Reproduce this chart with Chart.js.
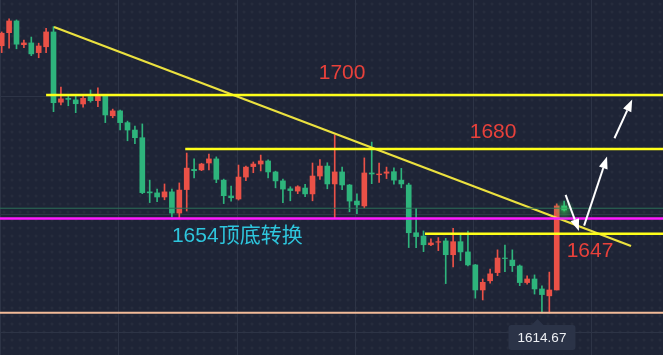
<!DOCTYPE html>
<html>
<head>
<meta charset="utf-8">
<script src="https://cdn.jsdelivr.net/npm/chart.js@4.4.1/dist/chart.umd.min.js"></script>
<style>
  html, body { margin: 0; padding: 0; }
  body {
    width: 663px; height: 355px; overflow: hidden;
    background-color: #1e2436;
    background-image: radial-gradient(circle, rgba(255,255,255,0.035) 1.3px, transparent 1.7px);
    background-size: 8px 8px;
  }
  #wrap { position: relative; width: 663px; height: 355px; }
</style>
</head>
<body>
<div id="wrap"><canvas id="chart" width="663" height="355"></canvas></div>
<script>
// ── Candles (index 0..76) ─────────────────────────────────────────────
const opens = [
  1719.3, 1724.4, 1729.0, 1719.7, 1720.4, 1716.6, 1718.9, 1724.7, 1697.2, 1698.7,
  1698.1, 1696.5, 1699.4, 1697.8, 1700.0, 1691.9, 1693.8, 1689.2, 1686.3, 1683.3,
  1662.1, 1661.7, 1660.1, 1662.1, 1653.8, 1663.0, 1670.9, 1670.7, 1673.4, 1675.0,
  1666.7, 1660.5, 1659.3, 1667.9, 1672.0, 1673.0, 1674.2, 1669.9, 1666.4, 1663.3,
  1662.4, 1663.6, 1661.3, 1668.3, 1672.2, 1665.2, 1669.9, 1664.8, 1658.5, 1656.6,
  1669.5, 1668.8, 1669.4, 1670.0, 1666.7, 1664.8, 1646.1, 1644.8, 1641.4, 1642.4,
  1642.9, 1637.5, 1642.6, 1638.6, 1633.5, 1623.7, 1627.3, 1630.5, 1636.2, 1635.4,
  1633.1, 1626.6, 1628.0, 1624.1, 1621.4, 1623.7, 1656.6
];
const highs = [
  1724.7, 1729.8, 1729.4, 1721.5, 1722.7, 1720.3, 1726.1, 1726.8, 1703.1, 1700.0,
  1699.6, 1700.3, 1702.0, 1702.8, 1700.2, 1694.5, 1694.1, 1689.8, 1687.9, 1688.7,
  1666.7, 1663.2, 1665.2, 1663.2, 1665.6, 1677.3, 1675.0, 1673.3, 1676.9, 1675.8,
  1667.1, 1664.4, 1672.6, 1672.2, 1673.8, 1676.5, 1674.6, 1670.2, 1667.1, 1664.1,
  1664.5, 1665.1, 1673.4, 1674.7, 1673.5, 1684.4, 1671.8, 1665.0, 1661.3, 1675.4,
  1681.6, 1673.4, 1671.8, 1671.5, 1671.3, 1665.5, 1655.7, 1646.8, 1643.7, 1644.2,
  1643.9, 1647.8, 1645.2, 1646.8, 1633.7, 1628.0, 1631.9, 1639.4, 1641.3, 1639.4,
  1633.5, 1629.2, 1629.6, 1625.3, 1630.7, 1657.4, 1658.5
];
const lows = [
  1716.6, 1718.3, 1718.1, 1718.5, 1715.4, 1714.6, 1716.6, 1693.5, 1696.1, 1695.8,
  1693.1, 1695.3, 1697.2, 1695.4, 1689.2, 1691.1, 1686.3, 1682.1, 1681.0, 1661.4,
  1657.9, 1658.3, 1659.0, 1652.3, 1652.0, 1654.6, 1667.6, 1670.4, 1670.7, 1665.7,
  1657.5, 1658.5, 1658.9, 1666.5, 1669.6, 1670.3, 1667.6, 1663.7, 1657.9, 1658.6,
  1661.4, 1660.2, 1658.6, 1667.0, 1663.3, 1652.0, 1663.0, 1654.3, 1653.6, 1655.8,
  1665.3, 1665.8, 1667.3, 1665.1, 1663.7, 1640.3, 1640.3, 1638.7, 1641.0, 1639.1,
  1626.2, 1632.7, 1635.2, 1633.1, 1620.5, 1619.8, 1626.4, 1629.3, 1630.9, 1630.9,
  1625.4, 1626.0, 1622.1, 1614.7, 1614.7, 1623.7, 1654.6
];
const closes = [
  1724.2, 1729.0, 1719.9, 1720.4, 1716.1, 1719.2, 1724.7, 1697.0, 1698.5, 1698.3,
  1696.6, 1698.7, 1697.8, 1700.0, 1692.2, 1693.8, 1689.2, 1686.3, 1683.3, 1661.8,
  1661.7, 1660.1, 1662.1, 1653.8, 1662.8, 1671.4, 1670.4, 1673.0, 1675.0, 1667.0,
  1660.6, 1659.8, 1667.9, 1671.8, 1673.0, 1674.2, 1669.9, 1666.4, 1663.2, 1662.6,
  1664.1, 1661.3, 1668.3, 1672.2, 1665.2, 1669.9, 1664.8, 1658.5, 1657.0, 1669.5,
  1669.1, 1669.1, 1669.9, 1666.7, 1665.2, 1646.1, 1644.6, 1641.4, 1642.1, 1642.6,
  1637.5, 1642.6, 1638.6, 1633.5, 1623.7, 1626.7, 1630.0, 1636.2, 1636.0, 1633.2,
  1626.6, 1628.0, 1624.1, 1621.9, 1623.7, 1656.6, 1655.0
];

// ── Visible window ────────────────────────────────────────────────────
const X_MIN = -0.23, X_MAX = 89.36;
const Y_MIN = 1598.25, Y_MAX = 1737.2;
const gridX = [-0.1, 15.75, 31.8, 47.8, 63.7, 79.75];
const gridY = [1699.6, 1653.3, 1606.9];

// ── Drawn levels ──────────────────────────────────────────────────────
const levelValues = [1700.0, 1678.9, 1645.7, 1651.7, 1614.8, 1655.7];
const levelStarts = [6.0, 24.8, 57.2, X_MIN, X_MIN, X_MIN];
const levelColors = ['#ffff1a', '#ffff1a', '#ffff1a', '#ff1aff', '#f3bb98', '#2c6f58'];
const levelWidths = [2.5, 2.5, 2.5, 2.5, 2, 1];

const trendX = [7.07, 85.04];
const trendY = [1726.6, 1640.9];

const arrowFrom = [[76.2, 1660.9], [78.7, 1648.9], [82.8, 1683.1]];
const arrowTo   = [[78.0, 1646.8], [81.8, 1675.9], [85.2, 1698.3]];

const noteTexts = ['1700', '1680', '1647', '1654顶底转换'];
const notePos   = [[46.0, 1708.6], [66.4, 1685.5], [79.5, 1639.0], [23.0, 1644.8]];

const lowTagText = '1614.67';
const lowTagPos = [72.4, 1614.67];

const UP = '#ea5147', DOWN = '#2eb47c';
const candleColors = opens.map((o, i) => closes[i] >= o ? UP : DOWN);

// ── Datasets ──────────────────────────────────────────────────────────
const bodies = opens.map((o, i) => ({ x: i, y: [o, closes[i]] }));
const wicks  = opens.map((o, i) => ({ x: i, y: [lows[i], highs[i]] }));

const lineSets = levelValues.map((v, i) => ({
  type: 'line',
  data: [{ x: levelStarts[i], y: v }, { x: X_MAX, y: v }],
  borderColor: levelColors[i],
  borderWidth: levelWidths[i],
  pointRadius: 0,
  order: 0,
}));
lineSets.push({
  type: 'line',
  data: trendX.map((x, i) => ({ x, y: trendY[i] })),
  borderColor: '#ebe13f',
  borderWidth: 2.2,
  pointRadius: 0,
  order: 0,
});

// ── Annotation plugin: arrows, notes, price tag, glow ─────────────────
const notes = {
  id: 'notes',
  afterDatasetsDraw(chart) {
    const { ctx, scales: { x, y } } = chart;
    ctx.save();

    // glow around last candle
    const gx = x.getPixelForValue(76), gy = y.getPixelForValue(closes[76]);
    const g = ctx.createRadialGradient(gx, gy, 0, gx, gy, 11);
    g.addColorStop(0, 'rgba(60,220,90,0.55)');
    g.addColorStop(1, 'rgba(60,220,90,0)');
    ctx.fillStyle = g;
    ctx.fillRect(gx - 12, gy - 12, 24, 24);

    // arrows
    ctx.strokeStyle = '#ffffff';
    ctx.fillStyle = '#ffffff';
    ctx.lineWidth = 2;
    arrowFrom.forEach((f, i) => {
      const x0 = x.getPixelForValue(f[0]), y0 = y.getPixelForValue(f[1]);
      const x1 = x.getPixelForValue(arrowTo[i][0]), y1 = y.getPixelForValue(arrowTo[i][1]);
      const a = Math.atan2(y1 - y0, x1 - x0);
      const hl = 12, hw = 4.5;
      const bx = x1 - hl * Math.cos(a), by = y1 - hl * Math.sin(a);
      ctx.beginPath();
      ctx.moveTo(x0, y0);
      ctx.lineTo(bx, by);
      ctx.stroke();
      ctx.beginPath();
      ctx.moveTo(x1, y1);
      ctx.lineTo(bx + hw * Math.sin(a), by - hw * Math.cos(a));
      ctx.lineTo(bx - hw * Math.sin(a), by + hw * Math.cos(a));
      ctx.closePath();
      ctx.fill();
    });

    // text notes
    ctx.textBaseline = 'middle';
    noteTexts.forEach((t, i) => {
      const px = x.getPixelForValue(notePos[i][0]), py = y.getPixelForValue(notePos[i][1]);
      const cjk = i === 3;
      ctx.font = '21px "Liberation Sans", "Noto Sans CJK SC", Arial, sans-serif';
      ctx.fillStyle = cjk ? '#2ec6dd' : '#e8413b';
      ctx.textAlign = cjk ? 'left' : 'center';
      ctx.fillText(t, px, py);
    });

    // low price tag
    const tx = x.getPixelForValue(lowTagPos[0]), ty = y.getPixelForValue(lowTagPos[1]);
    const bw = 67, bh = 25, top = ty + 12, left = tx - 29;
    ctx.fillStyle = '#2b3347';
    ctx.beginPath();
    ctx.roundRect(left, top, bw, bh, 3);
    ctx.fill();
    ctx.beginPath();
    ctx.moveTo(tx - 6, top);
    ctx.lineTo(tx, top - 6);
    ctx.lineTo(tx + 6, top);
    ctx.closePath();
    ctx.fill();
    ctx.fillStyle = '#eef0f4';
    ctx.font = '13.5px "Liberation Sans", Arial, sans-serif';
    ctx.textAlign = 'center';
    ctx.fillText(lowTagText, left + bw / 2, top + bh / 2 + 0.5);

    ctx.restore();
  }
};

const hiddenAxis = (min, max, ticks) => ({
  type: 'linear', min, max, offset: false,
  ticks: { display: false },
  border: { display: false },
  grid: { color: '#2d3446', lineWidth: 1, drawTicks: false, offset: false },
  afterBuildTicks: s => { s.ticks = ticks.map(v => ({ value: v })); },
});

new Chart(document.getElementById('chart'), {
  type: 'bar',
  data: {
    datasets: [
      ...lineSets,
      { data: bodies, backgroundColor: candleColors, barThickness: 5, grouped: false, order: 1 },
      { data: wicks, backgroundColor: candleColors, barThickness: 1, grouped: false, order: 2 },
    ]
  },
  options: {
    responsive: false,
    animation: false,
    layout: { padding: 0 },
    plugins: { legend: { display: false }, tooltip: { enabled: false } },
    scales: {
      x: hiddenAxis(X_MIN, X_MAX, gridX),
      y: hiddenAxis(Y_MIN, Y_MAX, gridY),
    }
  },
  plugins: [notes]
});
</script>
</body>
</html>
